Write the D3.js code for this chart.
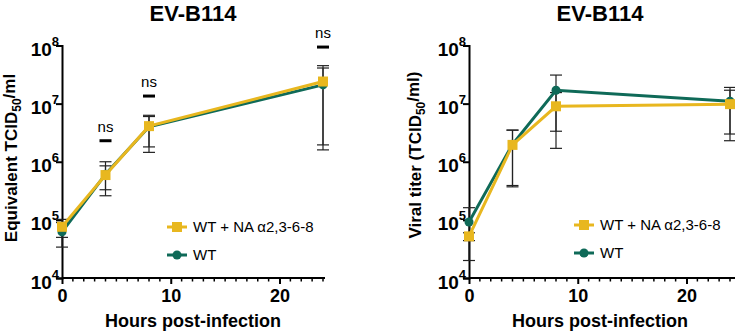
<!DOCTYPE html>
<html>
<head>
<meta charset="utf-8">
<script src="https://cdn.jsdelivr.net/npm/d3@7"></script>
<style>
  body { margin: 0; background: #fff; }
  svg { font-family: Arial, "Liberation Sans", sans-serif; }
</style>
</head>
<body>
<svg id="chart" width="735" height="334"></svg>
<script>
// data
var hours = [0, 4, 8, 24]
var seriesNames = ["WT + NA \u03b12,3-6-8", "WT"]
var yTicks = [1e4, 1e5, 1e6, 1e7, 1e8]
var xTicks = [0, 10, 20]

// left panel: equivalent TCID50/ml
var leftNA = [7.6e4, 5.9e5, 4.1e6, 2.4e7]
var leftNAHi = [1.02e5, 1.0e6, 6.3e6, 4.5e7]
var leftNALo = [5.0e4, 2.6e5, 1.45e6, 1.6e6]
var leftWT = [6.2e4, 6.1e5, 4.0e6, 2.1e7]
var leftWTHi = [9.0e4, 8.5e5, 6.0e6, 4.1e7]
var leftWTLo = [3.4e4, 3.3e5, 1.8e6, 1.95e6]
var nsLevels = [2.3e6, 1.35e7, 9.4e7]   // "ns" bars at 4, 8, 24 h

// right panel: viral titer
var rightNA = [5.2e4, 1.95e6, 9.0e6, 9.8e6]
var rightNAHi = [6.0e4, 3.5e6, 1.55e7, 1.7e7]
var rightNALo = [4.4e4, 3.7e5, 1.7e6, 2.3e6]
var rightWT = [9.2e4, 2.0e6, 1.7e7, 1.1e7]
var rightWTHi = [1.62e5, 3.5e6, 3.1e7, 1.9e7]
var rightWTLo = [2.0e4, 3.9e5, 3.35e6, 3.0e6]

var yellow = "#e8b71f"
var green = "#0f6a58"

var svg = d3.select("#chart")

function drawPanel(opts) {
    var g = svg.append("g")
    var x = d3.scaleLinear().domain([0, 24]).range([opts.left, opts.right])
    var y = d3.scaleLog().domain([1e4, 1e8]).range([278, 45.5])

    // title
    g.append("text")
     .attr("x", opts.center).attr("y", 21)
     .attr("text-anchor", "middle")
     .attr("font-size", 22).attr("font-weight", "bold")
     .text("EV-B114")

    // x axis, minor ticks every hour
    var xAx = g.append("g").attr("transform", `translate(0,${y(1e4)})`)
               .call(d3.axisBottom(x).tickValues(xTicks).tickSize(6).tickFormat(d3.format("d")))
    xAx.select(".domain").attr("stroke-width", 2).attr("d", `M${opts.left},0H${opts.axisEnd}`)
    xAx.selectAll(".tick line").attr("stroke-width", 2)
    xAx.selectAll(".tick text").attr("font-size", 18).attr("font-weight", "bold")
       .attr("font-family", "Arial, 'Liberation Sans', sans-serif")
       .attr("y", 24).attr("dy", 0)
    var minor = d3.range(1, 25).filter(d => d % 10 !== 0)
    g.append("g").selectAll("line").data(minor).enter().append("line")
     .attr("x1", d => x(d)).attr("x2", d => x(d))
     .attr("y1", y(1e4)).attr("y2", y(1e4) + 3.5)
     .attr("stroke", "black").attr("stroke-width", 1.5)

    // y axis
    var yAx = g.append("g").attr("transform", `translate(${opts.left},0)`)
               .call(d3.axisLeft(y).tickValues(yTicks).tickSize(6).tickFormat(""))
    yAx.select(".domain").attr("stroke-width", 2)
    yAx.selectAll(".tick line").attr("stroke-width", 2)
    yAx.selectAll(".tick").each(function(d) {
        var t = d3.select(this).append("text")
            .attr("x", -3).attr("y", 10)
            .attr("text-anchor", "end")
            .attr("font-size", 19).attr("font-weight", "bold")
            .attr("fill", "black")
        t.append("tspan").text("10")
        t.append("tspan").attr("font-size", 13).attr("dy", -10).text(Math.round(Math.log10(d)))
    })

    // y axis title
    var yt = g.append("text")
      .attr("transform", `translate(${opts.yTitleX},${opts.yTitleY}) rotate(-90)`)
      .attr("text-anchor", "middle")
      .attr("font-size", 17).attr("font-weight", "bold")
    opts.yTitle(yt)

    // x axis title
    g.append("text")
     .attr("x", opts.center).attr("y", 327)
     .attr("text-anchor", "middle")
     .attr("font-size", 18).attr("font-weight", "bold")
     .text("Hours post-infection")

    var series = [
        {vals: opts.wt, hi: opts.wtHi, lo: opts.wtLo, color: green, shape: "circle"},
        {vals: opts.na, hi: opts.naHi, lo: opts.naLo, color: yellow, shape: "square"}
    ]

    // error bars
    series.forEach(s => {
        hours.forEach((h, i) => {
            g.append("line")
             .attr("x1", x(h)).attr("x2", x(h))
             .attr("y1", y(s.hi[i])).attr("y2", y(s.lo[i]))
             .attr("stroke", "#222").attr("stroke-width", 1.2)
            ;[s.hi[i], s.lo[i]].forEach(v => {
                g.append("line")
                 .attr("x1", x(h) - 6).attr("x2", x(h) + 6)
                 .attr("y1", y(v)).attr("y2", y(v))
                 .attr("stroke", "#222").attr("stroke-width", 1.2)
            })
        })
    })

    var line = d3.line().x((d, i) => x(hours[i])).y(d => y(d))
    series.forEach(s => {
        g.append("path").datum(s.vals)
         .attr("d", line).attr("fill", "none")
         .attr("stroke", s.color).attr("stroke-width", 3)
    })
    series.forEach(s => {
        s.vals.forEach((v, i) => {
            if (s.shape === "circle") {
                g.append("circle").attr("cx", x(hours[i])).attr("cy", y(v)).attr("r", 4.5).attr("fill", s.color)
            } else {
                g.append("rect").attr("x", x(hours[i]) - 5).attr("y", y(v) - 5)
                 .attr("width", 10).attr("height", 10).attr("fill", s.color)
            }
        })
    })

    // ns annotations
    if (opts.ns) {
        hours.slice(1).forEach((h, i) => {
            g.append("line")
             .attr("x1", x(h) - 6).attr("x2", x(h) + 6)
             .attr("y1", y(opts.ns[i])).attr("y2", y(opts.ns[i]))
             .attr("stroke", "black").attr("stroke-width", 3)
            g.append("text")
             .attr("x", x(h)).attr("y", y(opts.ns[i]) - 9)
             .attr("text-anchor", "middle").attr("font-size", 15)
             .text("ns")
        })
    }

    // legend
    var leg = g.append("g")
    var items = [
        {name: seriesNames[0], color: yellow, shape: "square"},
        {name: seriesNames[1], color: green, shape: "circle"}
    ]
    items.forEach((it, i) => {
        var ly = opts.legendY + i * 28
        leg.append("line").attr("x1", opts.legendX).attr("x2", opts.legendX + 20)
           .attr("y1", ly).attr("y2", ly).attr("stroke", it.color).attr("stroke-width", 3)
        if (it.shape === "square") {
            leg.append("rect").attr("x", opts.legendX + 5).attr("y", ly - 5).attr("width", 10).attr("height", 10).attr("fill", it.color)
        } else {
            leg.append("circle").attr("cx", opts.legendX + 10).attr("cy", ly).attr("r", 4.5).attr("fill", it.color)
        }
        leg.append("text").attr("x", opts.legendX + 26).attr("y", ly).attr("dy", "0.35em")
           .attr("font-size", 15).text(it.name)
    })
}

drawPanel({
    left: 62, right: 323, axisEnd: 325, center: 193, yTitleX: 17, yTitleY: 158,
    na: leftNA, naHi: leftNAHi, naLo: leftNALo,
    wt: leftWT, wtHi: leftWTHi, wtLo: leftWTLo,
    ns: nsLevels, legendX: 167, legendY: 227,
    yTitle: t => {
        t.append("tspan").text("Equivalent TCID")
        t.append("tspan").attr("font-size", 12).attr("dy", "0.35em").text("50")
        t.append("tspan").attr("dy", "-0.35em").text("/ml")
    }
})

drawPanel({
    left: 469, right: 730, axisEnd: 735, center: 600, yTitleX: 421, yTitleY: 155,
    na: rightNA, naHi: rightNAHi, naLo: rightNALo,
    wt: rightWT, wtHi: rightWTHi, wtLo: rightWTLo,
    ns: null, legendX: 574, legendY: 225,
    yTitle: t => {
        t.append("tspan").text("Viral titer (TCID")
        t.append("tspan").attr("font-size", 12).attr("dy", "0.35em").text("50")
        t.append("tspan").attr("dy", "-0.35em").text("/ml)")
    }
})
</script>
</body>
</html>
